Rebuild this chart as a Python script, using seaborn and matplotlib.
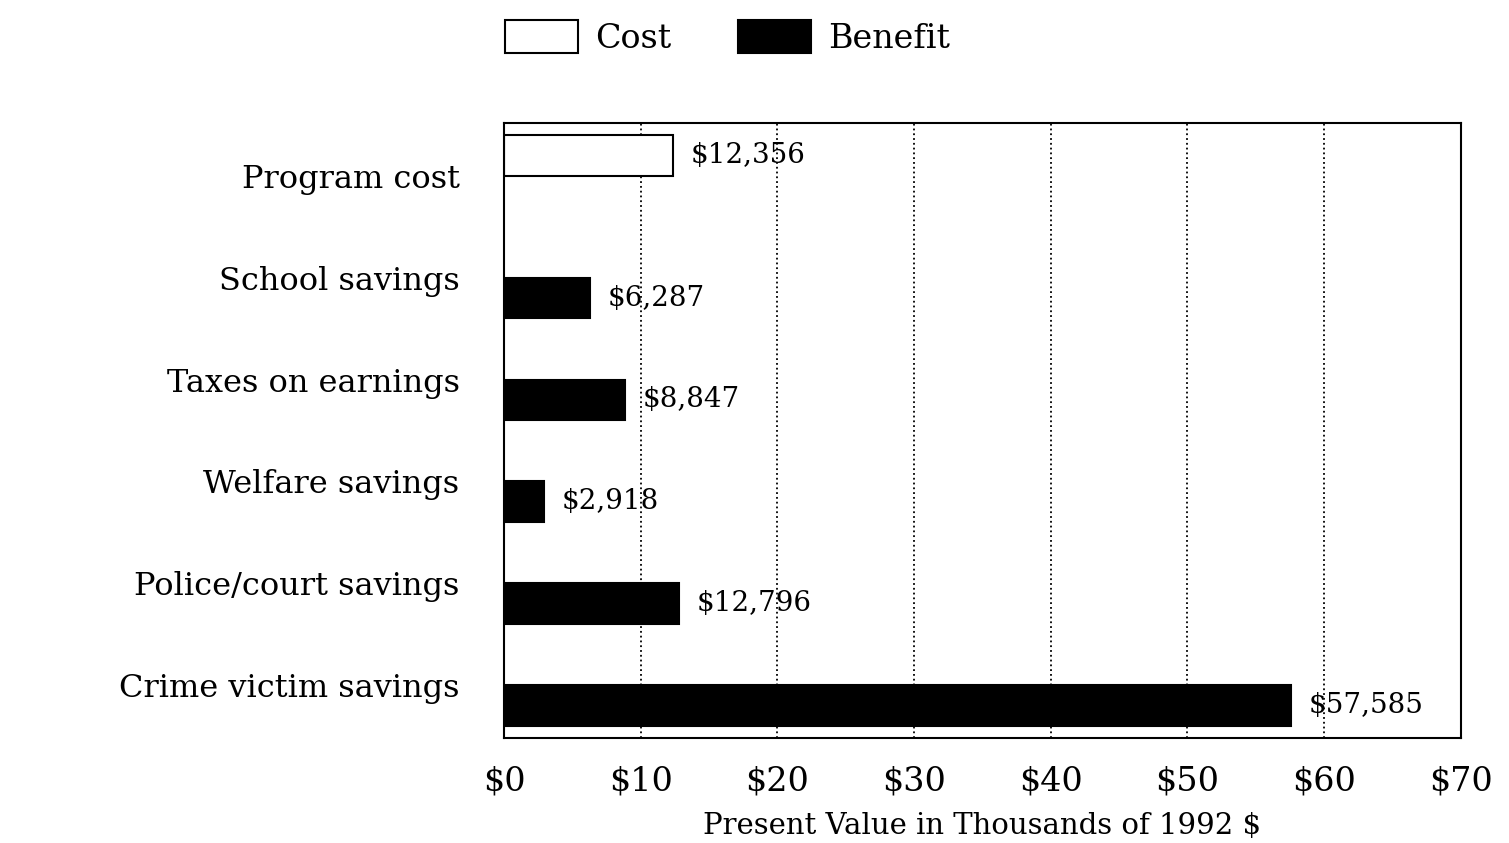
"""
Cost vs benefit bars, present value in thousands of 1992 $
"""
import matplotlib
matplotlib.use('Agg')
import matplotlib.pyplot as plt
import pandas as pd
import seaborn as sns

items = ["Program cost", "School savings", "Taxes on earnings",
         "Welfare savings", "Police/court savings", "Crime victim savings"]
kinds = ["Cost", "Benefit", "Benefit", "Benefit", "Benefit", "Benefit"]
values = [12.356, 6.287, 8.847, 2.918, 12.796, 57.585]
value_labels = ["$12,356", "$6,287", "$8,847", "$2,918", "$12,796", "$57,585"]
x_ticks = [0, 10, 20, 30, 40, 50, 60, 70]
x_ticklabels = ["$0", "$10", "$20", "$30", "$40", "$50", "$60", "$70"]

df = pd.DataFrame({'item': items, 'kind': kinds, 'value': values})

sns.set_style('white')
plt.rcParams['font.family'] = ['DejaVu Serif', 'DejaVu Sans']
plt.rcParams['text.color'] = 'black'
plt.rcParams['xtick.color'] = 'black'
plt.rcParams['ytick.color'] = 'black'
plt.rcParams['axes.labelcolor'] = 'black'

fig = plt.figure(figsize=(15.09, 8.43), dpi=100)
ax = fig.add_axes([0.334, 0.1246, 0.634, 0.7295])

sns.barplot(data=df, y='item', x='value', hue='kind', order=items,
            hue_order=["Cost", "Benefit"],
            palette={'Cost': 'white', 'Benefit': 'black'},
            edgecolor='black', linewidth=1.5, dodge=True, width=0.8,
            errorbar=None, ax=ax)

# value labels next to each bar
lab = dict(zip(items, value_labels))
for cont, kind in zip(ax.containers, ["Cost", "Benefit"]):
    names = [i for i, k in zip(items, kinds) if k == kind]
    ax.bar_label(cont, labels=[lab[n] for n in names], padding=13, fontsize=20)

ax.set_xlim(0, 70)
ax.set_ylim(5.52, -0.52)
ax.set_xticks(x_ticks)
ax.set_xticklabels(x_ticklabels, fontsize=24)
ax.tick_params(axis='y', labelsize=23, length=0, pad=32)
ax.tick_params(axis='x', length=0, pad=20)
ax.set_ylabel('')
ax.set_xlabel('Present Value in Thousands of 1992 $', fontsize=21, labelpad=10)
ax.xaxis.grid(True, linestyle=':', color='black', linewidth=1.3)
ax.yaxis.grid(False)
for s in ax.spines.values():
    s.set_visible(True)
    s.set_color('black')
    s.set_linewidth(1.5)

ax.get_legend().remove()
handles, labels = ax.get_legend_handles_labels()
fig.legend(handles, labels, loc='upper center', bbox_to_anchor=(0.482, 1.012),
           ncol=2, frameon=False, fontsize=24, handlelength=2.2,
           handleheight=1.15, handletextpad=0.5, columnspacing=2.0)

fig.savefig('out.png', dpi=100)
